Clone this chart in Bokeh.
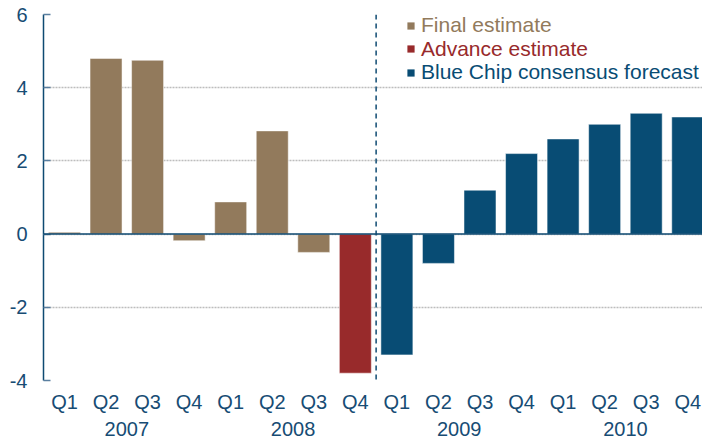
from bokeh.plotting import figure
from bokeh.models import (ColumnDataSource, Range1d, LinearAxis, FixedTicker, Span,
                          Legend, LegendItem)
from bokeh.embed import file_html
from bokeh.resources import INLINE

quarters = ["Q1", "Q2", "Q3", "Q4"] * 4
years = ["2007", "2008", "2009", "2010"]
values = [0.05, 4.8, 4.75, -0.18, 0.88, 2.82, -0.5, -3.8,
          -3.3, -0.8, 1.2, 2.2, 2.6, 3.0, 3.3, 3.2]
series = ["Final estimate"] * 7 + ["Advance estimate"] + ["Blue Chip consensus forecast"] * 8
series_names = ["Final estimate", "Advance estimate", "Blue Chip consensus forecast"]
series_colors = ["#927A5C", "#982A2B", "#084C74"]
y_ticks = [-4, -2, 0, 2, 4, 6]
y_tick_labels = ["-4", "-2", "0", "2", "4", "6"]

FONT = "Liberation Sans"
AXIS_BLUE = "#0E4A72"
LABEL_BLUE = "#174C74"

idx = list(range(len(values)))
color_map = dict(zip(series_names, series_colors))
src = ColumnDataSource(dict(x=idx, top=values, series=series,
                            color=[color_map[s] for s in series]))

p = figure(width=702, height=439, output_backend="svg", toolbar_location=None,
           x_range=Range1d(-0.505, 15.355), y_range=Range1d(-4, 6),
           min_border_left=43, min_border_top=14, min_border_right=0, min_border_bottom=59,
           x_axis_location=None, y_axis_location=None)
p.outline_line_color = None
p.background_fill_color = "white"
p.border_fill_color = "white"

p.vbar(x="x", top="top", bottom=0, width=0.77, source=src, fill_color="color",
       line_color="white", line_alpha=0.5, line_width=1)

# y axis
yaxis = LinearAxis(ticker=FixedTicker(ticks=y_ticks),
                   major_label_overrides=dict(zip(y_ticks, y_tick_labels)))
yaxis.axis_line_color = AXIS_BLUE
yaxis.axis_line_width = 1.5
yaxis.major_tick_in = 7
yaxis.major_tick_out = 0
yaxis.major_tick_line_color = "#5A7FA0"
yaxis.major_tick_line_width = 1.5
yaxis.minor_tick_line_color = None
yaxis.major_label_text_font = FONT
yaxis.major_label_text_font_size = "20px"
yaxis.major_label_text_color = LABEL_BLUE
yaxis.major_label_standoff = 16
p.add_layout(yaxis, "left")

# quarter axis
qaxis = LinearAxis(ticker=FixedTicker(ticks=idx),
                   major_label_overrides={i: q for i, q in enumerate(quarters)})
qaxis.axis_line_color = None
qaxis.major_tick_line_color = None
qaxis.major_tick_in = 0
qaxis.major_tick_out = 0
qaxis.minor_tick_line_color = None
qaxis.minor_tick_in = 0
qaxis.minor_tick_out = 0
qaxis.major_label_text_font = FONT
qaxis.major_label_text_font_size = "20px"
qaxis.major_label_text_color = LABEL_BLUE
qaxis.major_label_standoff = 10
p.add_layout(qaxis, "below")

# year axis
year_pos = [4 * k + 1.5 for k in range(len(years))]
yraxis = LinearAxis(ticker=FixedTicker(ticks=year_pos),
                    major_label_overrides={pos: yr for pos, yr in zip(year_pos, years)})
yraxis.axis_line_color = None
yraxis.major_tick_line_color = None
yraxis.major_tick_in = 0
yraxis.major_tick_out = 0
yraxis.minor_tick_line_color = None
yraxis.minor_tick_in = 0
yraxis.minor_tick_out = 0
yraxis.major_label_text_font = FONT
yraxis.major_label_text_font_size = "20px"
yraxis.major_label_text_color = LABEL_BLUE
yraxis.major_label_standoff = 6
p.add_layout(yraxis, "below")

# grid
p.ygrid.ticker = FixedTicker(ticks=y_ticks)
p.ygrid.grid_line_color = "#BDBDBD"
p.ygrid.grid_line_width = 1.5
p.ygrid.grid_line_dash = "2 1"
p.xgrid.grid_line_color = None

p.add_layout(Span(location=0, dimension="width", line_color=AXIS_BLUE, line_width=1.5))
p.add_layout(Span(location=7.5, dimension="height", line_color=AXIS_BLUE,
                  line_width=1.5, line_dash="5 4"))

# legends: one per series so each label keeps its own colour
for k, (name, col) in enumerate(zip(series_names, series_colors)):
    dummy = p.vbar(x=[-10], top=[1], width=0.5, fill_color=col, line_color=None)
    leg = Legend(items=[LegendItem(label=name, renderers=[dummy])],
                 location=(363, 343 - 23.5 * k), orientation="vertical")
    leg.label_text_color = col
    leg.label_text_font = FONT
    leg.label_text_font_size = "21px"
    leg.glyph_width = 9
    leg.glyph_height = 9
    leg.label_standoff = 6
    leg.padding = 0
    leg.margin = 0
    leg.spacing = 0
    leg.label_height = 20
    leg.border_line_color = None
    leg.background_fill_alpha = 0
    p.add_layout(leg, "center")

open("out.html", "w").write(file_html(p, INLINE))
